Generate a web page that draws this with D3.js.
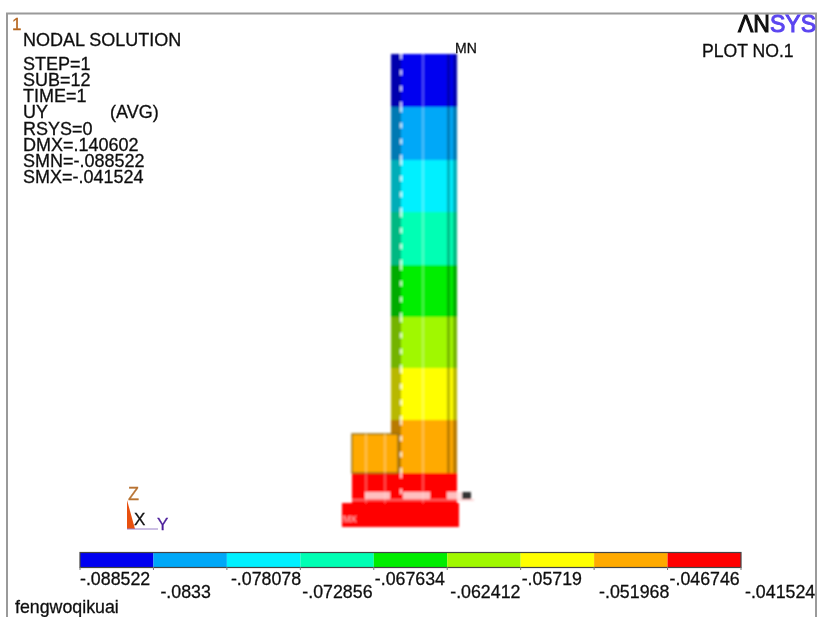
<!DOCTYPE html>
<html><head><meta charset="utf-8">
<script src="https://cdnjs.cloudflare.com/ajax/libs/d3/7.8.5/d3.min.js"></script>
<style>html,body{margin:0;background:#fff}svg{display:block}text{font-family:"Liberation Sans",Arial,sans-serif;fill:#111;stroke-width:.3px;paint-order:stroke}</style>
</head><body><div id="c"></div>
<script>
const contourValues=[-.088522,-.0833,-.078078,-.072856,-.067634,-.062412,-.05719,-.051968,-.046746,-.041524];
const contourLabels=["-.088522","-.0833","-.078078","-.072856","-.067634","-.062412","-.05719","-.051968","-.046746","-.041524"];
const contourColors=["#0000f0","#00a8f8","#00f0ff","#00ffb4","#00ee00","#a0f800","#ffff00","#ffaa00","#ff0000"];
const infoLines=["STEP=1","SUB=12","TIME=1","UY","RSYS=0","DMX=.140602","SMN=-.088522","SMX=-.041524"];
// model: height of each contour boundary along the column, top down
const columnBoundaries=[473,420,367,315,262,210,159,107,54];
const columnBottom=0;
const stubBoundaries=[93,54];
const stubBottom=22;
const baseHeights=[24,0];
const columnSpan=[49,115];
const columnFaces=[[49,59],[105,108],[111,115]];
const columnGuides=[59,81,105];
const stubSpan=[10,56];
const stubGuides=[24,43];
const baseSpan=[0,117];
const nodeGroups=[[23,48],[61,88],[105,128]];
const labelNudge=[0,7,4,2,1,3,1,5,2,4];

const W=818,H=617;
const svg=d3.select("#c").append("svg").attr("width",W).attr("height",H);
const defs=svg.append("defs");
const soft=(id,s)=>defs.append("filter").attr("id",id).attr("x","-10%").attr("y","-10%").attr("width","120%").attr("height","120%").append("feGaussianBlur").attr("stdDeviation",s);
soft("soft",.8);soft("softer",.35);
const yModel=d3.scaleLinear().domain([0,473]).range([527,54]);
const xModel=d3.scaleLinear().domain([0,117]).range([342,459]);
const xLegend=d3.scaleLinear().domain([contourValues[0],contourValues[9]]).range([80,741]);

svg.append("path").attr("d",`M7,${H}V13.5H816V${H}`).attr("fill","none").attr("stroke","#9a9a9a").attr("stroke-width",2);

const model=svg.append("g").attr("filter","url(#soft)");
const bandsData=contourColors.map((c,i)=>({c,t:columnBoundaries[i],b:i<8?columnBoundaries[i+1]:columnBottom}));
const col=model.append("g");
col.selectAll("rect").data(bandsData).join("rect")
 .attr("x",xModel(columnSpan[0])).attr("width",xModel(columnSpan[1])-xModel(columnSpan[0]))
 .attr("y",d=>yModel(d.t)).attr("height",d=>yModel(d.b)-yModel(d.t)).attr("fill",d=>d.c);
// darker side faces
col.selectAll("rect.face").data(columnFaces).join("rect").attr("class","face")
  .attr("x",e=>xModel(e[0])).attr("width",e=>xModel(e[1])-xModel(e[0]))
  .attr("y",yModel(columnBoundaries[0])).attr("height",yModel(columnBoundaries[8])-yModel(columnBoundaries[0]))
  .attr("fill","#000").attr("opacity",.28);
// stub
const stubBands=[{c:contourColors[7],t:stubBoundaries[0],b:stubBoundaries[1]},{c:contourColors[8],t:stubBoundaries[1],b:stubBottom}];
model.append("g").selectAll("rect").data(stubBands).join("rect")
 .attr("x",xModel(stubSpan[0])).attr("width",xModel(stubSpan[1])-xModel(stubSpan[0]))
 .attr("y",d=>yModel(d.t)).attr("height",d=>yModel(d.b)-yModel(d.t)).attr("fill",d=>d.c);
model.append("rect").attr("x",xModel(stubSpan[0])).attr("width",xModel(stubSpan[1])-xModel(stubSpan[0]))
 .attr("y",yModel(stubBoundaries[0])).attr("height",yModel(stubBoundaries[1])-yModel(stubBoundaries[0]))
 .attr("fill","none").attr("stroke","#8a6a10").attr("stroke-width",1.4);
// guides
const guides=model.append("g");
bandsData.forEach(d=>{
  guides.append("line").attr("x1",xModel(columnGuides[0])).attr("x2",xModel(columnGuides[0])).attr("y1",yModel(d.t)).attr("y2",yModel(Math.max(d.b,22)))
   .attr("stroke",d3.interpolateRgb(d.c,"#fff")(.75)).attr("stroke-width",2.4).attr("stroke-dasharray","5 11");
  guides.append("line").attr("x1",xModel(columnGuides[1])).attr("x2",xModel(columnGuides[1])).attr("y1",yModel(d.t)).attr("y2",yModel(Math.max(d.b,22)))
   .attr("stroke",d3.interpolateRgb(d.c,"#fff")(.45)).attr("stroke-width",1.2);
});
stubGuides.forEach(g=>{stubBands.forEach(d=>{
 guides.append("line").attr("x1",xModel(g)).attr("x2",xModel(g)).attr("y1",yModel(d.t)).attr("y2",yModel(d.b))
  .attr("stroke",d3.interpolateRgb(d.c,"#fff")(.45)).attr("stroke-width",1.2);
});});
// base plate
model.append("rect").attr("x",xModel(baseSpan[0])).attr("width",xModel(baseSpan[1])-xModel(baseSpan[0]))
 .attr("y",yModel(baseHeights[0])).attr("height",yModel(baseHeights[1])-yModel(baseHeights[0])).attr("fill",contourColors[8]);
model.append("line").attr("x1",xModel(10)).attr("x2",xModel(132)).attr("y1",yModel(27)).attr("y2",yModel(27)).attr("stroke","#ffb0b0").attr("stroke-width",1);
model.append("g").selectAll("rect").data(nodeGroups).join("rect").attr("x",d=>xModel(d[0])).attr("y",yModel(35)).attr("width",d=>xModel(d[1])-xModel(d[0])).attr("height",7).attr("fill","#ffe0e0").attr("opacity",.85);
model.append("rect").attr("x",xModel(120)).attr("y",yModel(35)).attr("width",9).attr("height",7).attr("fill","#333");
model.append("text").attr("x",xModel(1)).attr("y",yModel(5)).attr("font-size",9).style("fill","#ffc8c8").text("MX");

// text
const labels=svg.append("g").attr("filter","url(#softer)");
const t=(x,y,s,size,fill)=>labels.append("text").attr("x",x).attr("y",y).attr("font-size",size).style("fill",fill||"#111").style("stroke",fill||"#111").text(s);
t(12,30,"1",17,"#b5651d");
t(23,46,"NODAL SOLUTION",18);
const yInfo=d3.scalePoint().domain(infoLines).range([70,183]);
labels.append("g").selectAll("text").data(infoLines).join("text").attr("x",23).attr("y",d=>yInfo(d)).attr("font-size",18).style("stroke","#111").text(d=>d);
t(110,118,"(AVG)",18);
t(455,53,"MN",14);
const an=labels.append("text").attr("x",816).attr("y",32).attr("text-anchor","end").attr("font-size",23);
an.append("tspan").text("ΛN").style("fill","#111").style("stroke","#111").style("stroke-width","1px");
an.append("tspan").text("SYS").style("fill","#5a44f0").style("stroke","#5a44f0").style("stroke-width","1px");
t(702,57,"PLOT NO.1",17.6);
t(15,613,"fengwoqikuai",17.8);

// triad
svg.append("path").attr("d","M127,529V500L135,529Z").attr("fill","#e8500f");
svg.append("line").attr("x1",127).attr("x2",158).attr("y1",529).attr("y2",529).attr("stroke","#9a80c8").attr("stroke-width",1);
t(128,500,"Z",18,"#b87333");
t(134,525,"X",17,"#111");
t(157,530,"Y",17,"#4b1f9a");

// legend
const leg=svg.append("g");
leg.selectAll("rect").data(contourColors).join("rect")
 .attr("x",(d,i)=>xLegend(contourValues[i])).attr("width",(d,i)=>xLegend(contourValues[i+1])-xLegend(contourValues[i]))
 .attr("y",553).attr("height",14).attr("fill",d=>d);
leg.append("rect").attr("x",80).attr("y",552.5).attr("width",661).attr("height",15).attr("fill","none").attr("stroke","#444").attr("stroke-width",1.2);
leg.append("g").attr("stroke","#777").selectAll("line").data(contourValues).join("line")
 .attr("x1",d=>xLegend(d)).attr("x2",d=>xLegend(d)).attr("y1",567).attr("y2",570);
labels.append("g").selectAll("text").data(contourLabels).join("text")
 .attr("x",(d,i)=>xLegend(contourValues[i])+labelNudge[i])
 .attr("y",(d,i)=>i%2?598:585).attr("font-size",17.8).style("stroke","#111").text(d=>d);
</script></body></html>
